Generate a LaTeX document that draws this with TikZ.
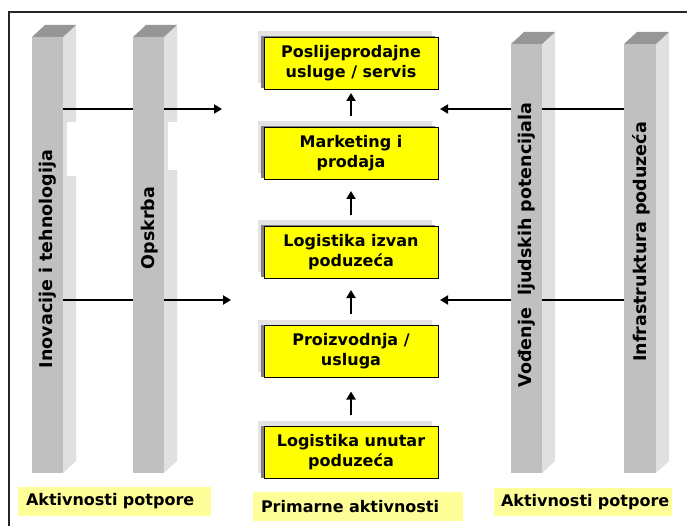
\documentclass[tikz,border=0pt]{standalone}
\usepackage{fontspec}
\setmainfont{DejaVu Sans}
\usetikzlibrary{arrows.meta,calc}
\pgfdeclarelayer{back}
\pgfdeclarelayer{mid}
\pgfsetlayers{back,mid,main}
\definecolor{pfront}{HTML}{C0C0C0}
\definecolor{pside}{HTML}{E0E0E0}
\definecolor{ptop}{HTML}{969696}
\definecolor{boxyellow}{HTML}{FFFF00}
\definecolor{labelyellow}{HTML}{FFFF99}
\definecolor{shdark}{HTML}{7F7F7F}
\definecolor{shlight}{HTML}{E3E3E3}
\begin{document}
\begin{tikzpicture}[x=1pt,y=-1pt,
  pillarface/.style={fill=pfront, inner sep=0pt, outer sep=0pt},
  pillartext/.style={rotate=90, inner sep=0pt, font=\bfseries\fontsize{17.5}{20}\selectfont},
  stepbox/.style={draw=black, line width=0.8pt, fill=boxyellow, minimum width=174pt, minimum height=52pt,
    align=center, inner sep=0pt, outer sep=0pt, font=\bfseries\fontsize{16}{20}\selectfont},
  groupbox/.style={fill=labelyellow, inner xsep=8pt, inner ysep=0pt, minimum height=29pt, align=left,
    font=\bfseries\fontsize{16}{20}\selectfont},
  arr/.style={line width=2.6pt, -{Triangle[length=8pt,width=9pt]}},
]
\useasboundingbox (0,0) rectangle (687,526);
% frame
\draw[line width=2pt, black!85] (9,530) -- (9,12) -- (690,12);

% pillar front faces
\node[pillarface, minimum width=31pt, minimum height=436pt] (p1) at (47.5,255) {};
\node[pillarface, minimum width=31pt, minimum height=436pt] (p2) at (148.5,255) {};
\node[pillarface, minimum width=31pt, minimum height=429pt] (p3) at (526.5,258.5) {};
\node[pillarface, minimum width=32pt, minimum height=429pt] (p4) at (640,258.5) {};

\begin{pgfonlayer}{back}
\foreach \p in {p1,p2,p3,p4} {
  \fill[pside] (\p.north east) -- ++(13,-12) -- ($(\p.south east)+(13,-12)$) -- (\p.south east) -- cycle;
  \fill[ptop] (\p.north west) -- ++(13,-12) -- ($(\p.north east)+(13,-12)$) -- (\p.north east) -- cycle;
}
\fill[white] (67,122) rectangle (77,176);
\fill[white] (168,122) rectangle (178,170);
\end{pgfonlayer}

% pillar labels
\node[pillartext] (t1) at (48,259) {Inovacije i tehnologija};
\node[pillartext] (t2) at (150,228) {Opskrba};
\node[pillartext] (t3) at (527,245) {Vođenje\ \ ljudskih potencijala};
\node[pillartext] (t4) at (641,242) {Infrastruktura poduzeća};

% primary activity boxes
\node[stepbox] (b1) at (351,63) {Poslijeprodajne\\usluge / servis};
\node[stepbox] (b2) at (351,153) {Marketing i\\prodaja};
\node[stepbox] (b3) at (351,252) {Logistika izvan\\poduzeća};
\node[stepbox] (b4) at (351,351.5) {Proizvodnja /\\usluga};
\node[stepbox] (b5) at (351,452.5) {Logistika unutar\\poduzeća};

\begin{pgfonlayer}{back}
\foreach \b in {b1,b2,b3,b4,b5} {
  \fill[shlight] ($(\b.north west)+(-6,-6)$) rectangle ($(\b.south east)+(-6,-6)$);
  \fill[shdark] ($(\b.north west)+(-3,-1)$) rectangle ($(\b.south east)+(-3,-1)$);
}
\end{pgfonlayer}

% vertical arrows
\draw[arr, shorten <=11pt, shorten >=4pt] (b2.north) -- (b1.south);
\draw[arr, shorten <=11pt, shorten >=12pt] (b3.north) -- (b2.south);
\draw[arr, shorten <=12pt, shorten >=12pt] (b4.north) -- (b3.south);
\draw[arr, shorten <=12pt, shorten >=14pt] (b5.north) -- (b4.south);

% horizontal arrows
\coordinate (ul) at (222,109);
\coordinate (ll) at (231,300);
\coordinate (ur) at (440,109);
\coordinate (lr) at (440,300);
\begin{pgfonlayer}{mid}
\draw[arr] (p1.east |- ul) -- (ul);
\draw[arr] (p1.east |- ll) -- (ll);
\draw[arr] (p4.west |- ur) -- (ur);
\draw[arr] (p4.west |- lr) -- (lr);
\end{pgfonlayer}

% bottom labels
\node[groupbox, text width=177pt] (g1) at (114.5,501.5) {\mbox{Aktivnosti potpore}};
\node[groupbox, text width=194pt] (g2) at (358,506.5) {\mbox{Primarne aktivnosti}};
\node[groupbox, text width=164pt, inner xsep=7pt, minimum height=28pt] (g3) at (583,502) {\mbox{Aktivnosti potpore}};
\end{tikzpicture}
\end{document}
